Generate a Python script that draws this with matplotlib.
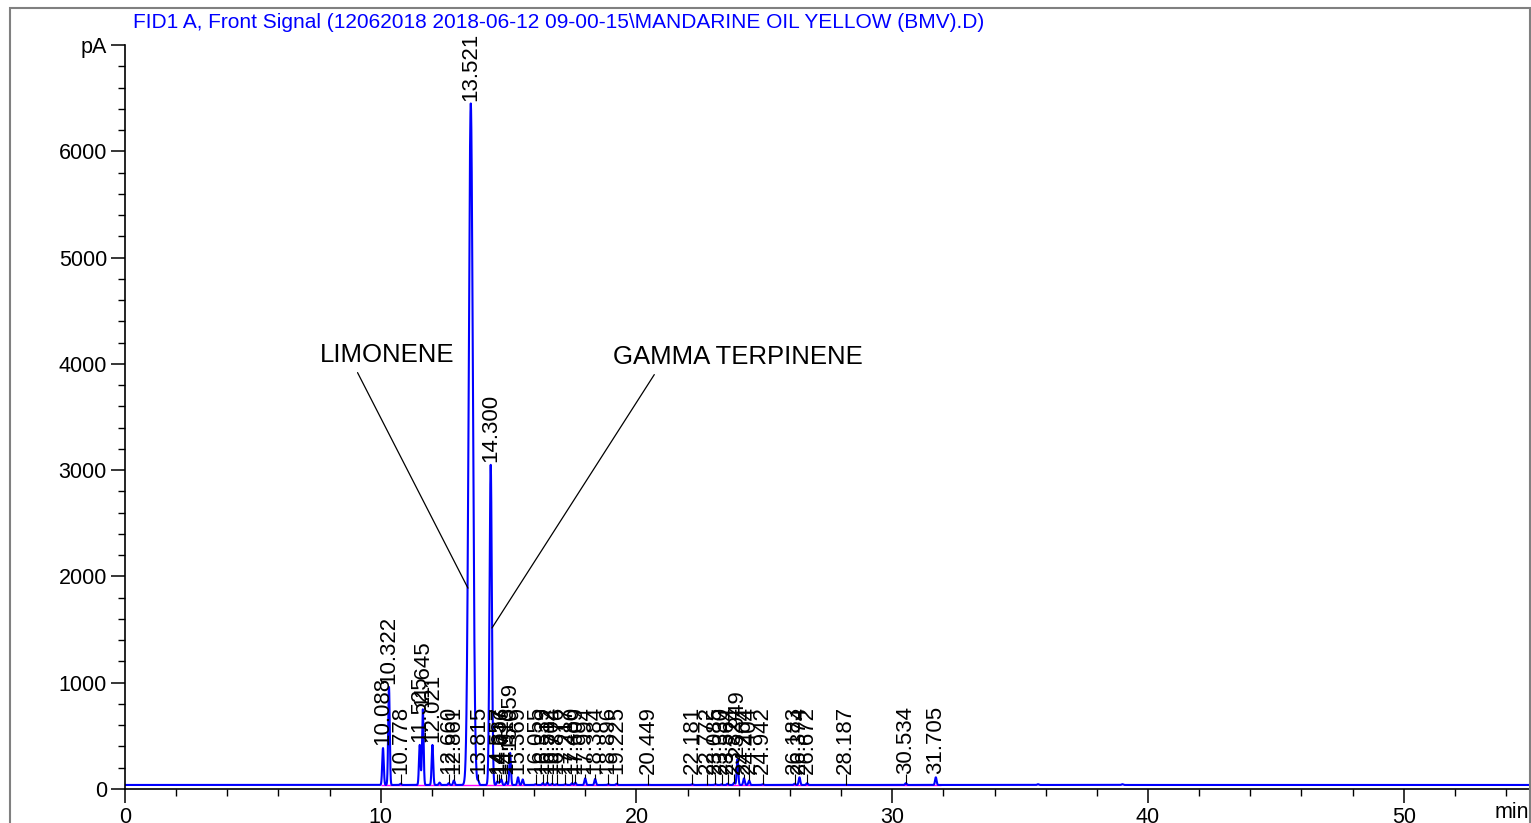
import numpy as np
import matplotlib
matplotlib.use("Agg")
import matplotlib.pyplot as plt
from matplotlib.patches import Rectangle
from matplotlib.ticker import MultipleLocator

plt.rcParams["font.family"] = ["Liberation Sans", "DejaVu Sans"]

# 피크 데이터 (머무름 시간, 높이 pA) - 그림에서 읽은 값
peak_rt = [10.088, 10.322, 10.778, 11.525, 11.645, 12.021, 12.660, 12.861,
           13.521, 13.815, 14.300, 14.557, 14.637, 14.716, 14.913, 15.059,
           15.369, 16.055, 16.339, 16.512, 16.704, 16.876, 17.217, 17.480,
           17.609, 17.994, 18.384, 18.896, 19.225, 20.449, 22.181, 22.772,
           23.085, 23.330, 23.564, 23.824, 23.949, 24.204, 24.404, 24.942,
           26.183, 26.374, 26.672, 28.187, 30.534, 31.705]
peak_height = [385, 960, 50, 415, 750, 415, 55, 80,
               6450, 75, 3050, 70, 60, 90, 65, 340,
               110, 45, 55, 60, 50, 45, 45, 55,
               60, 100, 95, 45, 50, 40, 45, 40,
               45, 45, 50, 60, 280, 100, 80, 45,
               50, 110, 55, 40, 55, 110]
# 라벨 없는 작은 피크
extra_rt = [15.55, 12.30, 35.7, 39.0]
extra_height = [90, 60, 45, 45]

baseline = 38
signal_title = "FID1 A, Front Signal (12062018 2018-06-12 09-00-15\\MANDARINE OIL YELLOW (BMV).D)"
compound_names = ["LIMONENE", "GAMMA TERPINENE"]
compound_text_xy = [(10.25, 4080), (23.95, 4060)]
compound_peak_xy = [(13.41, 1890), (14.35, 1515)]
compound_relpos = [(0.26, 0.0), (0.18, 0.0)]

x_ticks = [0, 10, 20, 30, 40, 50]
y_ticks = [0, 1000, 2000, 3000, 4000, 5000, 6000]

# 신호 만들기
t = np.linspace(0, 55, 30000)
sig = np.full_like(t, baseline, dtype=float)
wide = {13.521: 0.08, 14.300: 0.045}
for rt, h in zip(peak_rt + extra_rt, peak_height + extra_height):
    s = wide.get(rt, 0.03)
    sig += (h - baseline) * np.exp(-(t - rt) ** 2 / (2 * s ** 2))

fig = plt.figure(figsize=(15.31, 8.23), dpi=100)
ax = fig.add_axes([125 / 1531, 34 / 823, 1404 / 1531, 744 / 823])

ax.hlines(baseline - 4, 10.0, 31.9, color="#ff00ff", lw=1)
ax.plot(t, sig, color="#0000ff", lw=1.5)

# 피크 라벨
for rt, h in zip(peak_rt, peak_height):
    ly = max(h + 25, 140)
    if ly > h + 30:
        ax.vlines(rt, h, ly, color="black", lw=0.8)
    ax.text(rt, ly, f"{rt:.3f}", rotation=90, ha="center", va="bottom",
            fontsize=16, color="black")

for name, txy, pxy, rp in zip(compound_names, compound_text_xy, compound_peak_xy, compound_relpos):
    ax.annotate(name, xy=pxy, xytext=txy, ha="center", va="center", fontsize=18.5,
                arrowprops=dict(arrowstyle="-", color="black", lw=0.9,
                                relpos=rp, shrinkA=2, shrinkB=0))

ax.set_xlim(0, 54.9)
ax.set_ylim(0, 7000)
for sp in ["top", "right"]:
    ax.spines[sp].set_visible(False)
ax.spines["left"].set_linewidth(1.2)
ax.spines["bottom"].set_linewidth(1.2)

ax.set_xticks(x_ticks)
ax.set_xticklabels([str(v) for v in x_ticks])
ax.xaxis.set_minor_locator(MultipleLocator(2))
ax.set_yticks(y_ticks + [7000])
ax.set_yticklabels([str(v) for v in y_ticks] + ["pA"])
ax.yaxis.set_minor_locator(MultipleLocator(200))
ax.tick_params(axis="both", which="major", direction="out", length=10, width=1.1,
               labelsize=15.5)
ax.tick_params(axis="x", which="major", pad=3)
ax.tick_params(axis="y", which="major", pad=3)
ax.tick_params(axis="both", which="minor", direction="out", length=5, width=1)
ax.text(1.0, -0.018, "min", transform=ax.transAxes, ha="right", va="top", fontsize=15.5)

fig.text(133 / 1531, 1 - 22 / 823, signal_title, color="#0000ff", fontsize=15,
         ha="left", va="center")
fig.add_artist(Rectangle((10 / 1531, -0.02), 1520 / 1531, 1 - 8 / 823 + 0.02,
                         transform=fig.transFigure, fill=False, edgecolor="#808080", lw=1.5))

fig.savefig("out.png", dpi=100)
